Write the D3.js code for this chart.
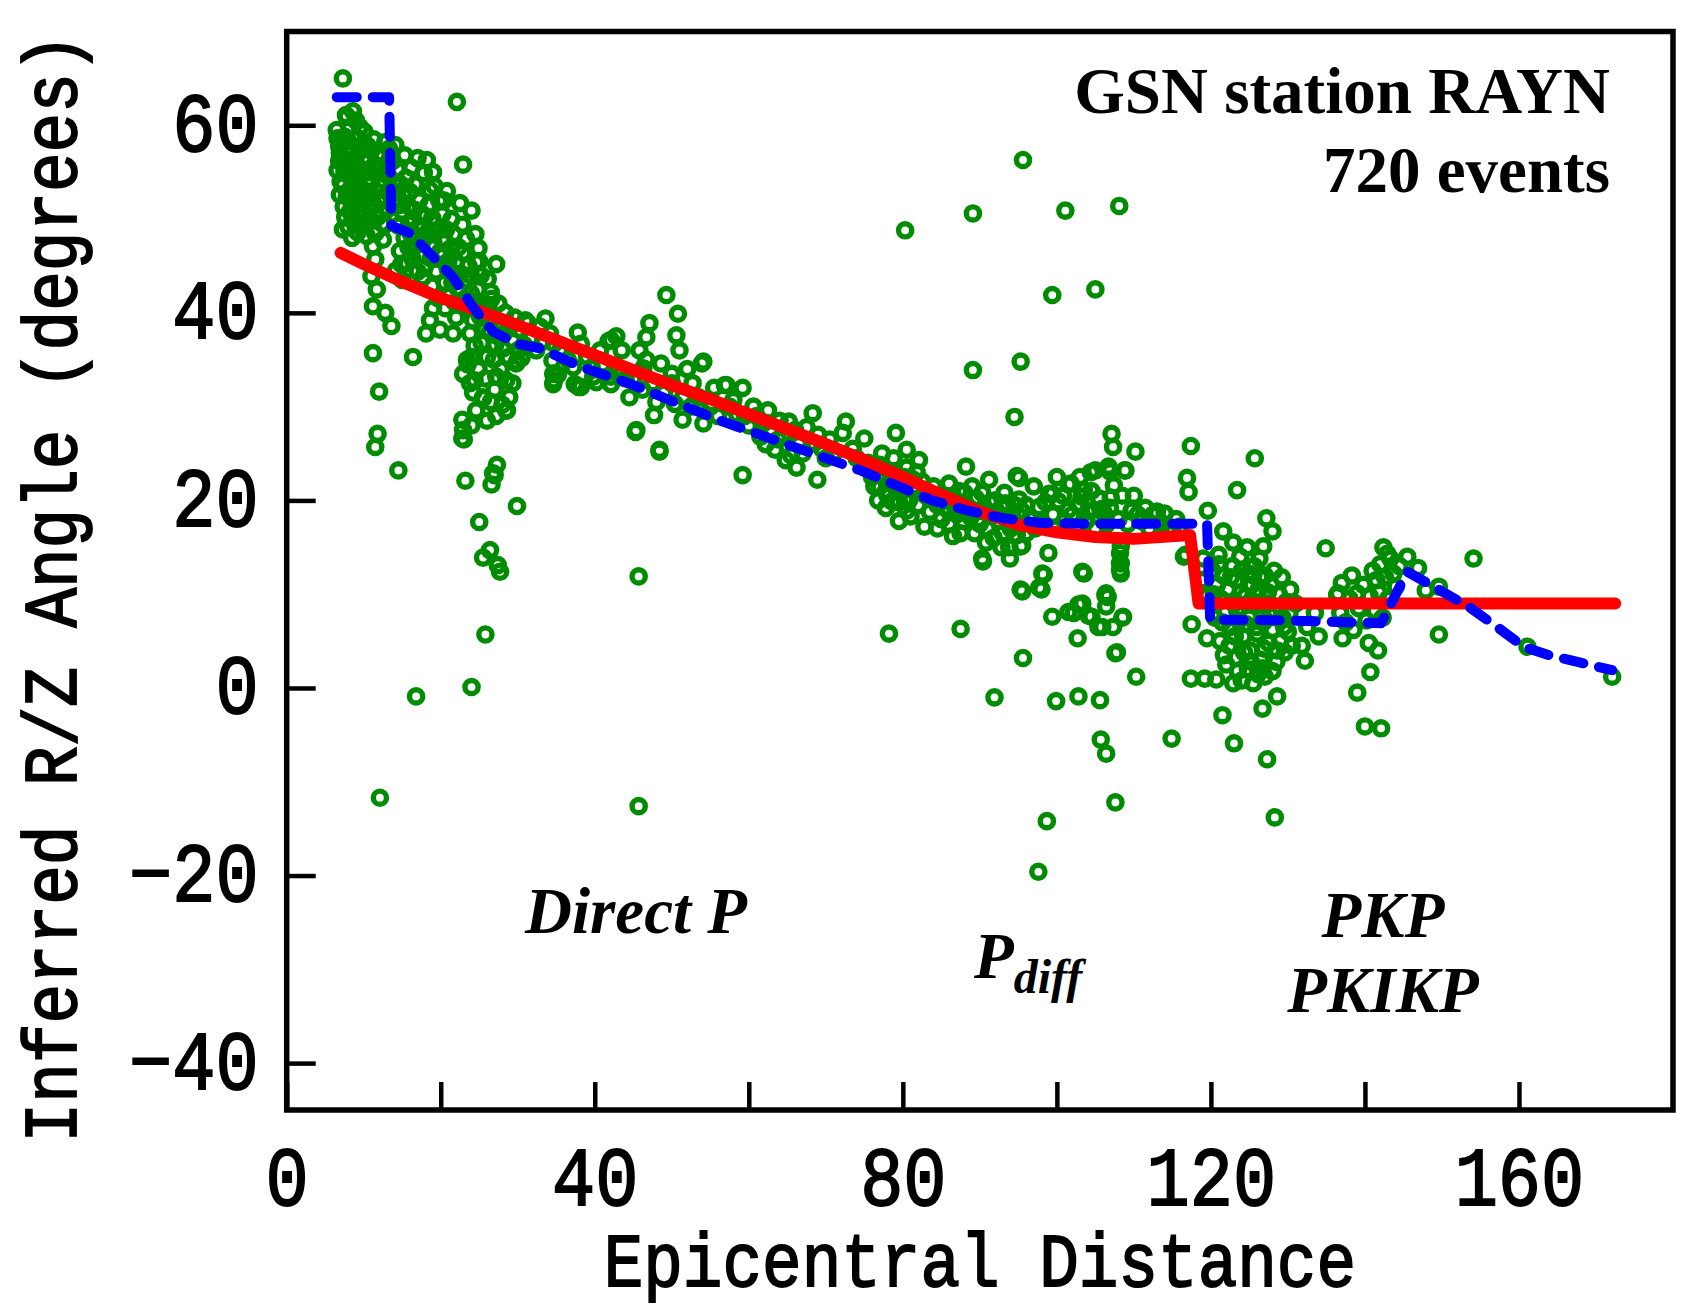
<!DOCTYPE html>
<html>
<head>
<meta charset="utf-8">
<script src="https://cdn.jsdelivr.net/npm/d3@7"></script>
<style>
  html, body { margin: 0; padding: 0; background: #fff; }
  svg { display: block; }
</style>
</head>
<body>
<svg id="chart" width="1685" height="1312"></svg>
<script>
// Axis ticks and labels
const xTickValues = [0, 20, 40, 60, 80, 100, 120, 140, 160];
const xLabelValues = [0, 40, 80, 120, 160];
const yTickValues = [-40, -20, 0, 20, 40, 60];

// Measured R/Z angles: [epicentral distance (deg), inferred angle (deg)]
const directP = [
  [6.5,59.5],[6.8,57.8],[7.2,56.5],[6.6,55.2],[7.0,54.0],[6.9,52.6],[7.4,51.3],[7.8,60.9],[8.2,59.8],[8.0,58.3],
  [8.4,57.0],[7.9,55.6],[8.3,54.4],[8.1,53.0],[8.6,51.8],[8.9,49.7],[9.5,59.8],[9.2,58.6],[9.6,57.3],[9.0,56.0],
  [9.4,54.8],[9.1,53.5],[9.7,52.2],[9.3,50.9],[10.0,58.0],[10.3,56.6],[10.1,55.2],[10.5,53.9],[10.2,52.5],[10.6,51.2],
  [9.9,49.5],[10.4,48.2],[7.3,48.9],[7.6,50.2],[8.5,48.0],[6.9,57.0],[7.5,58.8],[7.3,65.0],[7.7,61.1],
  [6.6,58.6],[7.1,58.0],[7.7,57.3],[6.8,56.2],[7.5,55.0],[8.2,56.3],[8.7,55.2],[7.3,53.6],[7.8,52.4],[8.5,53.5],
  [9.0,52.0],[9.5,51.0],[8.2,50.8],[8.0,49.2],[9.2,48.6],[9.8,50.2],[10.1,59.3],[9.0,60.5],[8.6,61.5],[10.5,57.8],
  [10.7,55.0],[11.0,52.2],[10.8,49.8],[11.3,58.5],[11.8,56.9],[12.0,55.3],[12.4,53.5],[12.0,51.8],[12.4,49.5],[13.0,51.0],
  [13.2,56.0],[12.8,58.2],
  [11.0,57.3],[11.4,55.8],[10.9,54.3],[11.6,53.0],[11.2,51.6],[11.8,50.2],[12.2,56.6],[12.6,55.0],[12.0,53.6],[12.7,52.3],
  [12.3,50.8],[12.8,49.4],[11.5,48.5],[11.2,47.1],[11.5,45.7],[11.0,43.9],[11.7,42.5],[11.2,40.7],[12.8,40.0],[13.6,38.6],
  [11.2,35.7],[13.3,57.5],[13.8,56.2],[13.1,54.7],[14.1,57.9],[13.5,53.2],[12.5,47.8],
  [14.4,55.3],[14.8,53.7],[14.2,52.2],[15.0,50.8],[14.5,49.3],[15.3,48.0],[14.7,46.6],[15.6,45.3],[15.5,54.4],[16.0,52.9],
  [15.8,51.4],[16.4,50.0],[16.1,48.5],[16.8,47.2],[16.3,45.8],[17.0,44.4],[16.7,53.7],[17.2,52.0],[17.5,50.6],[17.1,49.1],
  [17.7,47.7],[17.4,46.2],[17.9,44.8],[17.7,43.8],[18.2,56.3],[17.8,54.9],[18.6,53.1],[14.2,44.5],[15.0,43.5],
  [14.0,54.0],[14.6,51.5],[15.2,52.5],[15.9,49.5],[16.6,51.0],[16.9,48.2],[17.6,49.0],[18.0,50.3],[18.8,47.0],[19.5,48.8],
  [19.9,46.5],[20.7,48.9],[21.0,45.5],[21.5,43.2],[22.3,47.0],[22.6,44.2],[23.1,41.5],[23.9,44.0],[24.3,41.0],[25.0,45.5],
  [25.8,40.0],[26.6,41.5],[15.8,47.0],[14.9,45.2],[19.2,53.5],[20.8,53.0],[19.0,55.0],[16.2,55.5],[17.0,56.5],[15.3,56.8],
  [20.6,40.5],[22.0,39.5],[19.0,40.5],[24.0,35.3],[26.9,35.0],[28.2,37.8],
  [18.4,51.5],[18.9,50.1],[18.3,48.6],[19.1,47.3],[18.7,45.8],[19.4,44.4],[18.9,42.9],[19.6,41.6],[19.8,52.0],[20.2,50.5],
  [20.0,49.0],[20.6,47.6],[20.3,46.1],[20.9,44.7],[20.5,43.2],[21.1,41.8],[21.4,50.0],[21.7,48.4],[21.3,46.9],[22.0,45.4],
  [21.6,44.0],[22.2,42.6],[21.8,41.1],[22.5,51.7],[22.9,55.8],[22.1,62.5],[18.6,39.2],[18.1,37.8],[19.9,38.2],[21.6,37.8],
  [20.4,52.0],
  [22.8,49.4],[23.3,47.9],[22.9,46.4],[23.6,45.0],[23.2,43.5],[23.9,42.1],[23.5,40.6],[24.2,39.2],[23.8,37.8],[24.0,50.9],
  [24.5,48.4],[24.9,46.9],[24.6,45.4],[25.2,44.0],[24.8,42.5],[25.5,41.1],[25.1,39.6],[25.7,38.2],[25.3,36.8],[24.4,36.5],
  [22.9,33.5],[23.8,32.5],[25.5,31.0],[24.6,29.6],[22.9,27.5],[23.0,26.5],[22.8,28.6],[23.4,35.0],[24.9,34.0],[26.0,35.3],
  [23.5,34.5],[24.2,31.5],[25.8,33.0],[26.5,30.5],[27.0,31.8],[26.0,28.5],[24.0,28.0],[27.8,34.0],[29.3,32.5],[28.0,30.2],
  [27.2,29.0],[29.9,34.8],[25.5,30.9],[28.6,29.6],[24.4,32.8],
  [26.1,43.6],[26.5,42.2],[26.2,40.8],[26.8,39.4],[26.4,38.0],[27.1,36.6],[27.2,45.2],[27.5,41.0],[27.8,39.0],[27.4,37.5],
  [28.1,36.2],[28.5,32.8],[27.2,33.2],[28.9,31.0],[28.5,29.6],[29.8,34.6],[28.4,40.0],[29.0,38.5],[29.4,37.0],[28.8,35.3],
  [30.2,38.2],[30.8,36.6],[31.3,38.9],[31.8,37.4],[30.5,35.2],[32.4,36.0],[32.9,38.5],[33.3,37.0],[29.6,39.5],[30.0,36.0],
  [31.0,39.2],[33.6,39.4],[34.7,36.7],[37.8,37.9],[38.2,36.7],[39.6,34.2],[41.8,37.0],[42.8,37.5],[35.2,33.4],[37.4,32.4],
  [40.2,32.6],[43.6,33.8],[42.1,32.4],[34.6,33.5],[34.6,32.4],[38.2,32.1],[42.1,37.1],[34.2,37.8],[34.5,34.9],[34.7,32.8],
  [37.9,32.1],[39.8,33.2],[40.7,36.0],[42.1,33.2],[35.5,36.0],[36.5,35.0],[37.2,34.2],[39.0,35.3],[41.0,34.5],[43.0,34.0],
  [44.0,33.0],[43.5,36.0],
  [46.2,31.8],[45.4,27.5],[48.4,25.4],[47.1,38.9],[46.7,37.4],[49.3,41.9],[50.8,39.9],[50.6,37.6],[51.0,36.0],[45.8,36.0],
  [46.7,35.0],[48.6,34.6],[46.3,34.1],[47.7,29.1],[45.3,27.3],[51.4,28.6],[54.1,28.2],[50.4,30.3],[52.7,32.5],[53.9,34.6],
  [56.9,32.3],[45.0,33.0],[47.5,32.5],[49.0,31.5],[50.0,32.5],[51.5,31.0],[52.5,30.0],[53.5,31.0],[55.0,30.0],[56.0,29.0],
  [57.5,30.0],[58.5,29.2],[55.5,32.0],[44.5,31.0],[48.0,30.5],[52.0,34.0],[50.0,33.5],[54.1,34.8],[57.1,32.3],[55.2,30.4],
  [58.0,30.7],[59.2,32.0],[48.4,25.2],
  [59.2,22.7],[60.6,30.0],[62.5,29.6],[65.2,28.4],[61.5,26.8],[63.4,25.4],[64.8,24.3],[68.3,29.3],[68.5,26.1],[68.9,22.2],
  [59.5,29.0],[60.0,28.0],[61.0,29.0],[62.0,28.3],[63.0,27.5],[64.0,28.5],[64.5,27.0],[66.0,27.5],[66.5,26.0],[67.0,25.0],
  [65.5,24.8],[67.5,27.8],[69.5,25.5],[70.0,24.5],[70.5,26.5],[71.0,25.0],[69.0,27.0],[62.2,26.0],[63.8,26.5],[66.2,23.5],
  [72.6,28.4],[72.2,27.2],[75.0,26.6],[79.1,27.2],[77.3,25.0],[80.5,25.4],[82.1,24.3],[81.0,18.3],[82.8,17.2],[73.5,25.5],
  [74.0,24.5],[75.5,24.0],[76.0,22.5],[76.5,23.5],[77.0,21.5],[77.5,22.8],[78.0,20.5],[78.5,21.8],[79.0,23.0],[79.5,19.8],
  [80.0,21.0],[80.2,22.5],[80.8,20.0],[81.5,21.5],[82.0,19.5],[82.5,22.0],[83.0,20.5],[83.5,18.8],[84.0,21.5],[84.5,19.5],
  [77.8,19.2],[78.8,24.5],[81.8,23.0],[76.8,20.0],[80.5,18.9],[79.5,17.8],
  [77.0,23.8],[77.8,21.0],[78.3,23.0],[79.2,21.2],[79.8,22.2],[80.5,23.5],[81.2,22.3],[78.6,19.9],[80.3,20.2],[76.3,21.5],
  [86.5,16.2],[89.3,16.5],[88.2,23.6],[91.2,22.2],[95.1,22.4],[90.3,13.8],[93.9,13.8],[93.0,16.5],[95.3,15.1],[85.0,18.0],
  [85.5,20.5],[86.0,17.5],[86.8,19.2],[87.3,21.0],[87.8,17.8],[88.3,19.5],[88.8,18.2],[89.5,20.2],[90.0,17.5],[90.5,19.2],
  [91.0,17.0],[91.5,18.5],[92.0,20.0],[92.5,17.8],[93.0,19.2],[93.5,18.0],[94.0,17.0],[94.5,19.5],[95.0,17.5],[95.5,18.8],
  [96.0,16.5],[84.5,17.0],[86.0,21.8],[89.0,21.5],[90.8,15.5],[92.8,15.0],
  [85.8,19.0],[86.5,20.5],[87.0,18.5],[88.0,20.8],[89.0,19.0],[89.8,18.0],[90.3,20.8],[91.3,19.8],[92.2,18.8],[93.2,20.8],
  [94.2,18.5],[87.5,16.5],[91.8,16.0],[94.8,16.3],
  // scattered low values
  [16.4,35.3],[12.0,31.6],[11.8,27.1],[11.5,25.7],[14.5,23.2],[22.8,26.6],[23.2,22.1],[27.3,23.8],[26.8,22.9],[26.6,21.7],
  [29.9,19.4],[25.0,17.7],[26.4,14.7],[25.5,13.9],[27.4,13.1],[27.7,12.4],[25.8,5.7],[24.0,0.1],[16.8,-0.9],[12.1,-11.7],
  [45.7,11.9],[45.7,-12.6],[27.0,22.7],[78.2,5.8],[87.5,6.3]
];

const pDiff = [
  [94.8,22.6],[101.5,21.7],[103.5,21.1],[105.0,23.2],[106.7,23.6],[108.9,23.2],[107.4,21.6],[99.4,20.7],[97.7,19.3],[100.2,19.9],
  [102.8,19.5],[105.9,19.1],[109.7,18.9],[95.1,20.1],[93.3,19.7],[104.4,23.0],[101.8,21.8],[99.0,20.7],[103.2,20.4],[104.8,19.0],
  [107.1,27.1],[107.3,25.7],[110.2,25.2],[106.9,23.1],[108.8,23.2],[106.9,19.2],[109.8,19.0],[108.3,15.1],[108.3,13.3],[108.3,12.2],
  [93.8,15.0],[95.5,15.2],[98.9,14.4],[98.1,12.2],[97.7,10.7],[95.3,10.5],[103.3,12.4],[108.2,14.4],[108.2,12.6],[96.5,18.0],
  [98.0,17.5],[99.5,18.5],[101.0,17.8],[102.0,18.5],[103.8,17.8],[105.0,17.0],[106.5,17.5],[111.0,17.8],[112.5,18.5],[113.8,17.5],
  [115.0,16.8],[116.7,14.2],[97.0,21.5],[100.0,22.5],
  [96.0,19.5],[97.2,17.0],[98.5,19.8],[99.8,17.0],[100.8,20.5],[101.5,19.0],[102.5,17.0],[103.0,22.5],[104.0,18.8],[104.5,21.0],
  [105.5,20.2],[106.2,18.5],[107.0,20.3],[108.0,18.0],[108.5,20.5],[109.2,17.5],[110.0,20.5],[110.5,18.5],[111.5,19.2],[112.0,17.0],
  [113.0,18.8],[114.0,18.6],[114.5,17.0],[115.5,18.0],[116.0,17.2],
  [90.4,13.5],[98.3,12.1],[95.5,10.3],[98.0,10.5],[103.5,12.2],[108.2,13.3],[106.6,9.7],[99.4,7.6],[102.2,8.0],[103.3,9.0],
  [104.5,7.6],[105.9,6.5],[107.3,6.5],[108.6,7.6],[102.7,5.3],[107.6,3.7],[110.3,1.2],[95.6,3.2],[91.9,-1.0],[99.9,-1.4],
  [102.8,-0.9],[105.6,-1.3],[105.7,-5.5],[106.4,-7.0],[107.6,-12.2],[98.7,-14.2],[97.6,-19.6],[114.9,-5.4],[106.3,9.9],[102.8,8.9],
  [105.4,6.5],[101.5,8.1],[104.1,7.7],[108.5,7.5],[107.8,3.8],[106.4,10.1],[106.4,8.7],
  [80.3,48.8],[89.1,50.6],[95.6,56.3],[101.1,50.9],[108.1,51.4],[99.4,41.9],[105.0,42.5],[95.3,34.8],[89.1,33.9],[94.5,28.9],
  [117.4,25.8],[116.9,22.4],[117.1,20.9],[116.5,14.0]
];

const pkp = [
  [119.6,18.9],[121.6,16.7],[123.4,21.1],[125.7,24.5],[127.2,18.1],[128.0,16.7],[126.8,15.1],[126.3,13.8],[125.5,12.0],[134.9,14.9],
  [117.5,6.8],[119.5,5.3],[119.2,1.0],[120.7,0.9],[121.5,-2.9],[123.0,-5.9],[127.3,-7.6],[128.3,-13.8],[126.7,2.1],[128.6,-0.9],
  [126.7,-2.2],[132.2,2.9],[117.4,1.0],[124.0,0.8],
  [120.2,12.5],[120.8,11.0],[121.0,13.2],[121.3,9.5],[121.6,12.0],[121.9,8.0],[122.2,10.5],[122.5,6.5],[122.8,13.0],[122.4,4.5],
  [123.0,9.0],[123.3,11.5],[123.6,7.2],[123.2,3.2],[124.0,12.5],[124.2,5.5],[124.5,9.8],[124.8,2.0],[125.0,7.5],[125.3,11.0],
  [125.1,4.0],[125.6,13.0],[125.8,8.8],[126.0,5.8],[126.2,10.5],[126.5,3.0],[126.8,7.0],[127.0,12.0],[127.3,9.0],[127.5,4.8],
  [127.8,11.0],[128.0,6.2],[128.3,8.2],[128.5,2.8],[128.8,10.0],[129.0,5.0],[129.3,7.5],[129.6,3.8],[129.8,9.2],[130.0,6.0],
  [130.3,10.5],[130.5,4.5],[121.0,14.2],[123.8,14.0],[122.0,2.5],[125.5,0.5],[127.0,1.2],[123.5,1.8],[121.2,5.0],[120.5,7.5],
  [119.5,9.8],[118.8,11.5],[119.0,13.8],[122.9,15.5],[124.7,15.0],[131.0,9.0],[131.8,4.5],
  [120.4,10.0],[121.5,7.0],[122.6,11.8],[123.1,5.5],[123.9,10.2],[124.3,3.8],[124.9,12.2],[125.4,9.2],[125.9,6.5],[126.4,11.8],
  [126.9,4.2],[127.4,10.2],[128.2,12.5],[128.6,4.0],[129.2,11.8],[129.5,6.5],[130.2,8.0],[121.7,3.5],[122.9,0.5],[126.1,1.5],
  [128.0,1.8],[124.6,6.8],[127.6,7.8],[123.4,8.3],[125.2,2.8],
  [136.4,9.9],[137.1,5.3],[139.0,-0.5],[140.0,-4.1],[142.1,-4.3],[140.7,1.7],[140.5,4.8],[141.7,4.0],[142.4,15.0],[142.9,14.3],
  [145.5,14.0],[146.9,12.8],[149.6,10.8],[147.9,10.4],[154.1,13.8],[149.6,5.7],[161.1,4.4],[172.1,1.2],[136.5,10.1],[139.0,10.1],
  [141.5,11.5],[136.8,8.0],[137.5,7.0],[138.0,9.5],[138.5,6.2],[139.2,8.5],[139.8,11.0],[140.2,7.2],[140.6,9.8],[141.0,12.5],
  [141.3,8.2],[141.8,10.2],[142.0,13.2],[142.3,7.5],[142.6,11.8],[143.0,9.5],[143.3,13.8],[143.7,12.2],[144.0,10.8],[144.5,13.0],
  [138.3,12.0],[137.0,11.2],[133.5,8.0],[132.5,6.5],[134.0,5.5]
];

// Smooth reference prediction (red) and running fit (blue dashed)
const predicted = [
  [7,46.4],[10,45.2],[15,43.3],[20,41.6],[25,40.2],[30,38.7],[35,37.1],[40,35.5],[45,33.9],[50,32.3],
  [55,30.8],[60,29.2],[65,27.6],[70,26.0],[75,24.3],[80,22.5],[85,20.6],[90,18.8],[95,17.4],[100,16.6],
  [105,16.1],[110,15.9],[117.3,16.3],[118.4,9.0],[172.5,9.0]
];
const observedFit = [
  [6.5,63.0],[13.3,63.0],[13.6,49.3],[16.0,48.5],[18.6,46.3],[21.6,43.8],[24.2,40.6],[26.8,38.0],[29.9,36.7],[33.0,36.2],
  [38,34.3],[44.4,32.5],[50,30.6],[56,28.6],[65.2,25.9],[74.5,23.2],[83.8,20.0],[88.5,18.9],[93,18.1],[98,17.6],
  [105.4,17.5],[112,17.5],[119.5,17.5],[119.9,7.3],[130,7.2],[142.1,6.9],[145.5,12.4],[148.5,11.0],[153.4,8.7],[157,6.6],
  [160.6,4.4],[163.9,3.5],[168,2.7],[172.1,1.9]
];

const svg = d3.select('#chart');
const plotLeft = 286.7, plotRight = 1673, plotTop = 31.5, plotBottom = 1110;
const x = d3.scaleLinear().domain([0, 180]).range([plotLeft, plotRight]);
const y = d3.scaleLinear().domain([-45, 70]).range([plotBottom, plotTop]);

const monoFont = '"Liberation Mono", "Courier New", monospace';
const serifFont = '"Liberation Serif", "Times New Roman", serif';
const stretch = 1.15;

// Mono text in a medium weight, thickened slightly with its own outline
function monoStyle(sel, size) {
  sel.attr('fill', '#000')
    .attr('stroke', '#000')
    .attr('stroke-width', 1.6)
    .style('font-family', monoFont)
    .style('font-weight', 'normal')
    .style('font-size', size + 'px');
}

// Points
const allEvents = directP.concat(pDiff, pkp);
svg.append('g')
  .selectAll('circle')
  .data(allEvents)
  .join('circle')
  .attr('cx', d => x(d[0]))
  .attr('cy', d => y(d[1]))
  .attr('r', 6.6)
  .attr('fill', 'none')
  .attr('stroke', '#008c00')
  .attr('stroke-width', 5.4);

const line = d3.line().x(d => x(d[0])).y(d => y(d[1]));

svg.append('path')
  .datum(predicted)
  .attr('d', line)
  .attr('fill', 'none')
  .attr('stroke', '#ff0000')
  .attr('stroke-width', 12)
  .attr('stroke-linecap', 'round')
  .attr('stroke-linejoin', 'round');

svg.append('path')
  .datum(observedFit)
  .attr('d', line)
  .attr('fill', 'none')
  .attr('stroke', '#0000ff')
  .attr('stroke-width', 10)
  .attr('stroke-linecap', 'round')
  .attr('stroke-linejoin', 'round')
  .attr('stroke-dasharray', '20 16');

// Bottom axis, ticks pointing inward
const xAxis = d3.axisBottom(x)
  .tickValues(xTickValues)
  .tickSize(-28)
  .tickFormat(d => xLabelValues.includes(d) ? String(d) : '');
const gx = svg.append('g').attr('transform', `translate(0,${plotBottom})`).call(xAxis);
gx.select('.domain').remove();
gx.selectAll('.tick line').attr('stroke', '#000').attr('stroke-width', 4.5);
gx.selectAll('.tick text')
  .attr('dy', null)
  .attr('y', 95 / stretch)
  .attr('transform', `scale(1,${stretch})`)
  .call(monoStyle, 72);

// Left axis
const yAxis = d3.axisLeft(y)
  .tickValues(yTickValues)
  .tickSize(-29)
  .tickFormat(d3.format('d'));
const gy = svg.append('g').attr('transform', `translate(${plotLeft},0)`).call(yAxis);
gy.select('.domain').remove();
gy.selectAll('.tick line').attr('stroke', '#000').attr('stroke-width', 4.5);
gy.selectAll('.tick text')
  .attr('dy', null)
  .attr('x', -28)
  .attr('y', 25 / stretch)
  .attr('transform', `scale(1,${stretch})`)
  .call(monoStyle, 72);

// Plot frame
svg.append('rect')
  .attr('x', plotLeft).attr('y', plotTop)
  .attr('width', plotRight - plotLeft).attr('height', plotBottom - plotTop)
  .attr('fill', 'none')
  .attr('stroke', '#000')
  .attr('stroke-width', 5.5);

// Axis titles
svg.append('text')
  .attr('transform', `translate(${(plotLeft + plotRight) / 2},1286) scale(1,${stretch})`)
  .attr('text-anchor', 'middle')
  .call(monoStyle, 66)
  .text('Epicentral Distance');

svg.append('text')
  .attr('transform', `translate(76,588) rotate(-90) scale(1,${stretch})`)
  .attr('text-anchor', 'middle')
  .call(monoStyle, 66)
  .text('Inferred R/Z Angle (degrees)');

// Station label
const station = svg.append('g')
  .style('font-family', serifFont)
  .style('font-weight', 'bold')
  .style('font-size', '65px')
  .attr('text-anchor', 'end');
station.append('text').attr('x', 1610).attr('y', 113).text('GSN station RAYN');
station.append('text').attr('x', 1610).attr('y', 192).text('720 events');

// Phase labels
const phases = svg.append('g')
  .style('font-family', serifFont)
  .style('font-weight', 'bold')
  .style('font-style', 'italic')
  .style('font-size', '65px');
phases.append('text').attr('x', 636).attr('y', 933).attr('text-anchor', 'middle').text('Direct P');
const pd = phases.append('text').attr('x', 974).attr('y', 978);
pd.append('tspan').text('P');
pd.append('tspan').attr('dy', 15).style('font-size', '48px').text('diff');
phases.append('text').attr('x', 1383).attr('y', 937).attr('text-anchor', 'middle').text('PKP');
phases.append('text').attr('x', 1383).attr('y', 1012).attr('text-anchor', 'middle').text('PKIKP');
</script>
</body>
</html>
